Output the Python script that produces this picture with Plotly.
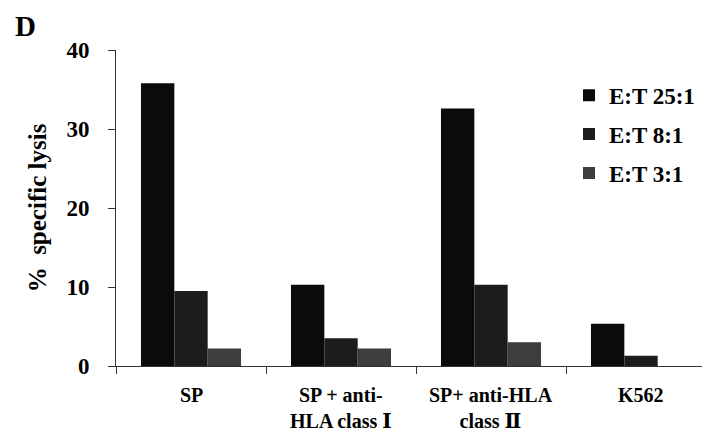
import plotly.graph_objects as go

categories = ["SP", "SP + anti-HLA class Ⅰ", "SP+ anti-HLA class Ⅱ", "K562"]
label_lines = [["SP"], ["SP + anti-", "HLA class Ⅰ"], ["SP+ anti-HLA", "class Ⅱ"], ["K562"]]
series_names = ["E:T 25:1", "E:T 8:1", "E:T 3:1"]
et_25 = [35.8, 10.3, 32.6, 5.35]
et_8 = [9.5, 3.5, 10.3, 1.3]
et_3 = [2.2, 2.2, 3.0, 0.0]
y_ticks = [0, 10, 20, 30, 40]

colors = ["#0b0b0b", "#1c1c1c", "#3d3d3d"]
FONT = "Liberation Serif"


def roman(s):
    for ch in ("Ⅰ", "Ⅱ"):
        s = s.replace(ch, f"<span style='font-family:DejaVu Serif'>{ch}</span>")
    return s


fig = go.Figure()
for i, (name, vals) in enumerate(zip(series_names, [et_25, et_8, et_3])):
    fig.add_trace(go.Bar(
        x=categories, y=vals, name=name,
        marker=dict(color=colors[i], line=dict(width=0)),
        legendgroup=name,
    ))

for cat, lines in zip(categories, label_lines):
    txt = "<br>".join(f"<b>{roman(l)}</b>" for l in lines)
    fig.add_annotation(x=cat, y=0, xref="x", yref="y", text=txt,
                       showarrow=False, yanchor="top", yshift=-16,
                       font=dict(family=FONT, size=20, color="#000"))

fig.add_annotation(x=-0.172, y=1.132, xref="paper", yref="paper", text="<b>D</b>",
                   showarrow=False, xanchor="left", yanchor="top",
                   font=dict(family=FONT, size=29, color="#000"))

fig.update_layout(
    width=710, height=435,
    margin=dict(l=108, r=2, t=42, b=77),
    paper_bgcolor="white", plot_bgcolor="white",
    barmode="group", bargap=0.333, bargroupgap=0,
    font=dict(family=FONT, color="#000"),
    showlegend=True,
    legend=dict(x=0.755, y=0.925, xanchor="left", yanchor="top",
                font=dict(family=FONT, size=23, color="#000", weight="bold"),
                bgcolor="rgba(0,0,0,0)", tracegroupgap=6, itemwidth=30,
                traceorder="grouped"),
    xaxis=dict(type="category", showticklabels=False, showline=True,
               linecolor="#333", linewidth=1, ticks="outside", ticklen=7,
               tickcolor="#333", tickson="boundaries", showgrid=False,
               zeroline=False),
    yaxis=dict(range=[0, 40], tickvals=y_ticks, showline=True, linecolor="#333",
               linewidth=1, ticks="outside", ticklen=7, tickcolor="#333",
               showgrid=False, zeroline=False, ticklabelstandoff=14,
               tickfont=dict(family=FONT, size=23, color="#000", weight="bold"),
               title=dict(text="<b>%  specific lysis</b>", standoff=12,
                          font=dict(family=FONT, size=25, color="#000"))),
)

fig.write_html("out.html")
